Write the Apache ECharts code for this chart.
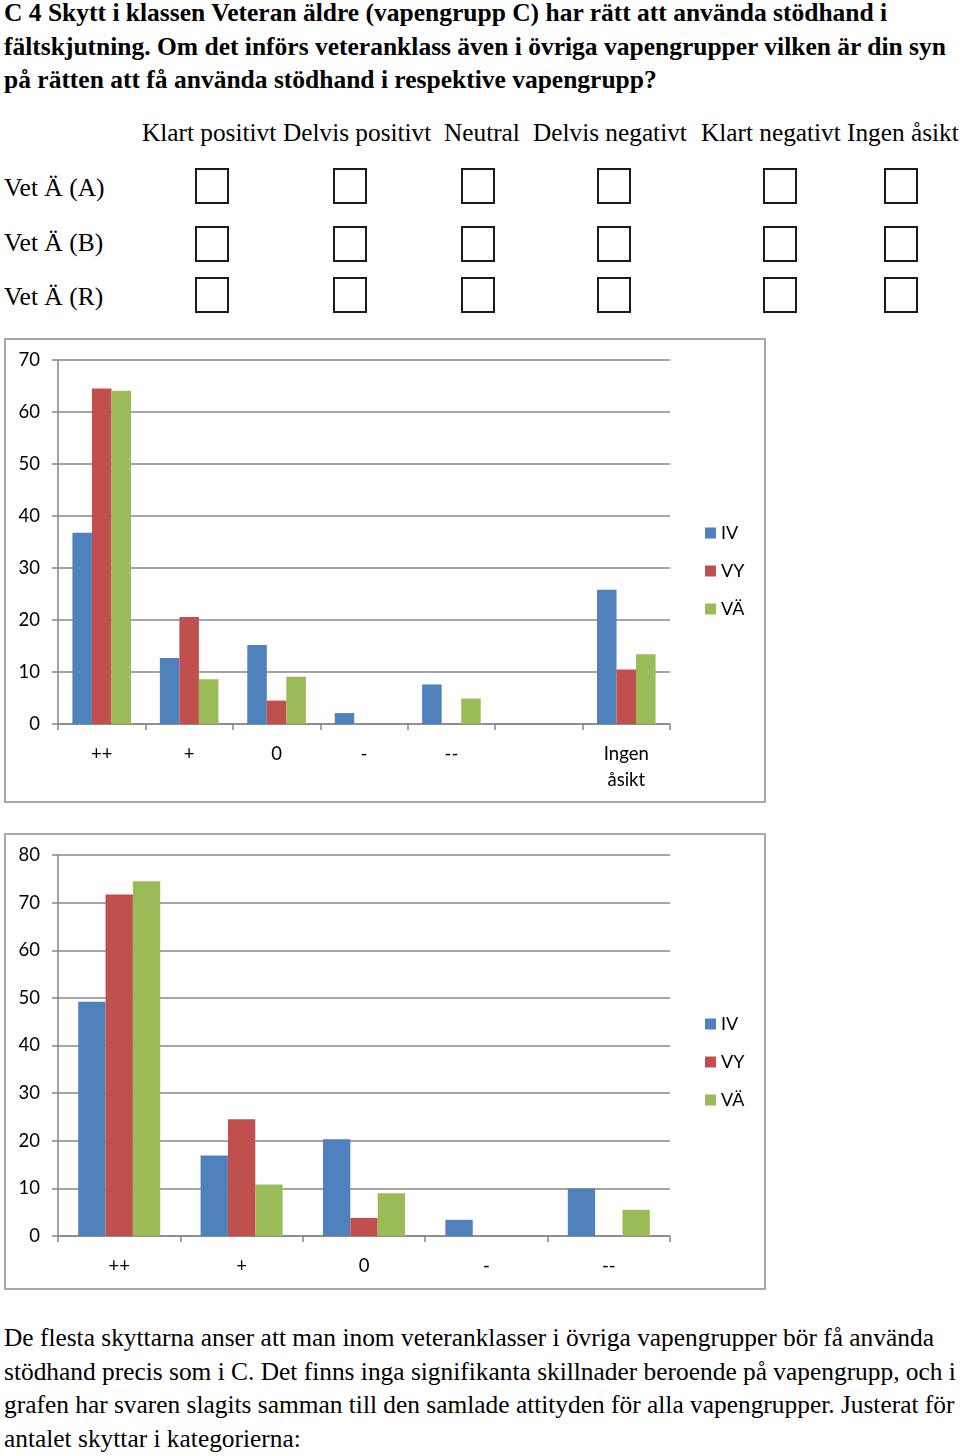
<!DOCTYPE html>
<html>
<head>
<meta charset="utf-8">
<script src="https://cdn.jsdelivr.net/npm/echarts@6/dist/echarts.min.js"></script>
<style>
  body { margin:0; background:#fff; width:960px; height:1456px; position:relative; overflow:hidden;
         font-family:"Liberation Serif", "Times New Roman", serif; color:#000; }
  .t { position:absolute; white-space:nowrap; }
  .title { left:4px; top:-4px; font-weight:bold; font-size:25.5px; line-height:33.5px; }
  .para { left:4px; top:1321px; font-size:25.4px; line-height:33.5px; }
  .hd { top:118px; font-size:25.3px; }
  .rw { left:4px; font-size:25.5px; }
  .cb { position:absolute; width:30px; height:32px; border:2px solid #1a1a1a; }
  .frame { position:absolute; left:4px; border:2px solid #a8a8a8; width:758px; }
</style>
</head>
<body>

<div class="t title">C 4 Skytt i klassen Veteran äldre (vapengrupp C) har rätt att använda stödhand i<br>fältskjutning. Om det införs veteranklass även i övriga vapengrupper vilken är din syn<br>på rätten att få använda stödhand i respektive vapengrupp?</div>

<div id="tbl"></div>

<div id="c1" class="frame" style="top:338px;height:461px;"></div>
<div id="c2" class="frame" style="top:833px;height:453px;"></div>

<div class="t para">De flesta skyttarna anser att man inom veteranklasser i övriga vapengrupper bör få använda<br>stödhand precis som i C. Det finns inga signifikanta skillnader beroende på vapengrupp, och i<br>grafen har svaren slagits samman till den samlade attityden för alla vapengrupper. Justerat för<br>antalet skyttar i kategorierna:</div>

<script>
// svarsalternativ och rader i frågeformuläret
var answerHeads = ['Klart positivt', 'Delvis positivt', 'Neutral', 'Delvis negativt', 'Klart negativt', 'Ingen åsikt'];
var rowLabels = ['Vet Ä (A)', 'Vet Ä (B)', 'Vet Ä (R)'];

// diagram 1 (med Ingen åsikt)
var cats1 = ['++', '+', '0', '-', '--', '', 'Ingen\nåsikt'];
var iv1 = [36.8, 12.7, 15.2, 2.1, 7.6, null, 25.8];
var vy1 = [64.5, 20.6, 4.5, 0, 0, null, 10.5];
var va1 = [64.1, 8.6, 9.1, 0, 4.9, null, 13.4];

// diagram 2 (samlad attityd)
var cats2 = ['++', '+', '0', '-', '--'];
var iv2 = [49.2, 16.9, 20.3, 3.4, 10.0];
var vy2 = [71.7, 24.5, 3.8, 0, 0];
var va2 = [74.5, 10.8, 9.0, 0, 5.5];

var seriesNames = ['IV', 'VY', 'VÄ'];
var colors = ['#4f81bd', '#c0504d', '#9bbb59'];

// tabellen med kryssrutor
var headX = [142, 283, 444, 533, 701, 847];
var boxX = [195, 333, 461, 597, 763, 884];
var boxY = [168, 226, 277];
var rowY = [173, 228, 282];
var tbl = document.getElementById('tbl');
var html = '';
answerHeads.forEach(function (h, i) {
  html += '<div class="t hd" style="left:' + headX[i] + 'px">' + h + '</div>';
});
rowLabels.forEach(function (r, j) {
  html += '<div class="t rw" style="top:' + rowY[j] + 'px">' + r + '</div>';
  boxX.forEach(function (x) {
    html += '<div class="cb" style="left:' + x + 'px;top:' + boxY[j] + 'px"></div>';
  });
});
tbl.innerHTML = html;

var font = 'Lato, "Open Sans", sans-serif';
var gray = '#878787';

function makeChart(el, cats, iv, vy, va, yMax, gridH, legendTop) {
  var chart = echarts.init(document.getElementById(el));
  var data = [iv, vy, va];
  chart.setOption({
    animation: false,
    textStyle: { fontFamily: font },
    grid: { left: 52, top: 20, width: 612, height: gridH },
    legend: {
      orient: 'vertical', left: 694, top: legendTop,
      itemWidth: 11, itemHeight: 11, itemGap: 20,
      icon: 'rect',
      textStyle: { fontSize: 18, color: '#000', lineHeight: 18, fontFamily: font },
      data: seriesNames
    },
    xAxis: {
      type: 'category', data: cats,
      axisLine: { lineStyle: { color: gray, width: 1.5 } },
      axisTick: { show: true, length: 6, lineStyle: { color: gray, width: 1.5 } },
      axisLabel: { color: '#000', fontSize: 18.5, margin: 17, lineHeight: 26, interval: 0 }
    },
    yAxis: {
      type: 'value', min: 0, max: yMax, interval: 10,
      axisLine: { show: true, lineStyle: { color: gray, width: 1.5 } },
      axisTick: { show: true, length: 6, lineStyle: { color: gray, width: 1.5 } },
      splitLine: { lineStyle: { color: gray, width: 1.5 } },
      axisLabel: { color: '#000', fontSize: 18.5, margin: 18 }
    },
    series: seriesNames.map(function (n, i) {
      return {
        name: n, type: 'bar', data: data[i],
        barGap: '0%', barCategoryGap: '33%',
        itemStyle: { color: colors[i] }
      };
    })
  });
}

makeChart('c1', cats1, iv1, vy1, va1, 70, 364, 179);
makeChart('c2', cats2, iv2, vy2, va2, 80, 381, 175);
</script>
</body>
</html>
